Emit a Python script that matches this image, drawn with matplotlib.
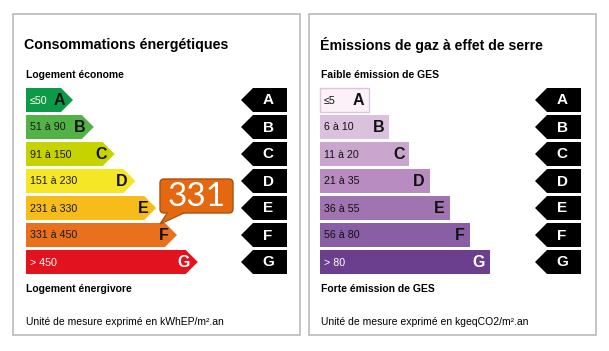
import numpy as np
import matplotlib.pyplot as plt
from matplotlib.patches import Polygon, Rectangle, FancyBboxPatch

plt.rcParams['font.family'] = ['Liberation Sans', 'DejaVu Sans']

# --- data ---
classes = ['A', 'B', 'C', 'D', 'E', 'F', 'G']
energy_ranges = ['≤50', '51 à 90', '91 à 150', '151 à 230', '231 à 330', '331 à 450', '> 450']
energy_colors = ['#0d9a47', '#53b246', '#c6d300', '#f5e725', '#f6bd1a', '#e9701d', '#e2131f']
energy_range_text = ['white', '#1a1a1a', '#1a1a1a', '#1a1a1a', '#1a1a1a', '#1a1a1a', 'white']
energy_letter_text = ['#111111', '#111111', '#111111', '#111111', '#111111', '#111111', 'white']

ges_ranges = ['≤5', '6 à 10', '11 à 20', '21 à 35', '36 à 55', '56 à 80', '> 80']
ges_colors = ['#fcf1f8', '#dcc1de', '#caa6cf', '#b88cc0', '#a073b1', '#8a5ea4', '#6c3f8e']
ges_text = ['#111111', '#111111', '#111111', '#111111', '#111111', '#111111', 'white']

energy_value = 331
energy_class = 'F'

# --- layout (pixels) ---
W, H = 609, 351
row_top0, row_pitch, row_h = 88, 27, 24

fig = plt.figure(figsize=(W / 100, H / 100), dpi=100)
ax = fig.add_axes([0, 0, 1, 1])
ax.set_xlim(0, W)
ax.set_ylim(H, 0)
ax.axis('off')

# panel frames
for x0 in (13, 309):
    ax.add_patch(Rectangle((x0, 14), 287, 321, fill=False, ec='#b4b4b4', lw=1.1))


def black_arrow(x_tip, y, letter):
    depth = 12
    pts = [(x_tip, y + row_h / 2), (x_tip + depth, y), (x_tip + 46, y),
           (x_tip + 46, y + row_h), (x_tip + depth, y + row_h)]
    ax.add_patch(Polygon(pts, closed=True, fc='black', ec='none'))
    ax.text(x_tip + 27, y + row_h / 2 + 0.5, letter, color='white', fontsize=11,
            fontweight='bold', ha='center', va='center')


# energy panel
ax.text(24, 45, 'Consommations énergétiques', fontsize=10.3, fontweight='bold', va='center')
ax.text(26, 75, 'Logement économe', fontsize=7.5, fontweight='bold', va='center')
ax.text(26, 289, 'Logement énergivore', fontsize=7.5, fontweight='bold', va='center')
ax.text(26, 322, 'Unité de mesure exprimé en kWhEP/m².an', fontsize=7.5, va='center')

for i, cls in enumerate(classes):
    y = row_top0 + i * row_pitch
    tip = 73 + 20.8 * i
    depth = 12
    pts = [(26, y), (tip - depth, y), (tip, y + row_h / 2), (tip - depth, y + row_h), (26, y + row_h)]
    ax.add_patch(Polygon(pts, closed=True, fc=energy_colors[i], ec='none'))
    ax.text(30, y + row_h / 2 + 0.5, energy_ranges[i], fontsize=7.7,
            color=energy_range_text[i], va='center')
    ax.text(tip - 8, y + row_h / 2 + 0.5, cls, fontsize=11.5, fontweight='bold',
            color=energy_letter_text[i], ha='right', va='center')
    black_arrow(241, y, cls)

# value bubble on the energy class row
k = classes.index(energy_class)
tail_y = row_top0 + k * row_pitch
bx0, by0, bx1, by1 = 160, 179, 233, 213
tail = Polygon([(168, by1 - 1), (186, by1 - 1), (160, tail_y + 1)], closed=True,
               fc='#e4680f', ec='#a9520f', lw=1)
ax.add_patch(tail)
ax.add_patch(FancyBboxPatch((bx0, by0), bx1 - bx0, by1 - by0,
                            boxstyle='round,pad=0,rounding_size=4',
                            fc='#e4680f', ec='#a9520f', lw=1))
ax.add_patch(Polygon([(169, by1 - 1.5), (185, by1 - 1.5), (162, tail_y - 0.5)], closed=True,
                     fc='#e4680f', ec='none'))
ax.text((bx0 + bx1) / 2, (by0 + by1) / 2 + 1, str(energy_value), fontsize=24,
        color='white', ha='center', va='center', family=['Lato', 'DejaVu Sans'])

# GES panel
ax.text(320, 45, 'Émissions de gaz à effet de serre', fontsize=10.2, fontweight='bold', va='center')
ax.text(321, 75, 'Faible émission de GES', fontsize=7.5, fontweight='bold', va='center')
ax.text(321, 289, 'Forte émission de GES', fontsize=7.5, fontweight='bold', va='center')
ax.text(321, 322, 'Unité de mesure exprimé en kgeqCO2/m².an', fontsize=7.5, va='center')

for i, cls in enumerate(classes):
    y = row_top0 + i * row_pitch
    right = 369 + 20.2 * i
    ax.add_patch(Rectangle((320, y), right - 320, row_h, fc=ges_colors[i],
                           ec='#dcc6dc' if i == 0 else 'none', lw=1))
    ax.text(324, y + row_h / 2 + 0.5, ges_ranges[i], fontsize=7.7, color=ges_text[i], va='center')
    ax.text(right - 5, y + row_h / 2 + 0.5, cls, fontsize=11.5, fontweight='bold',
            color=ges_text[i], ha='right', va='center')
    black_arrow(535, y, cls)

fig.savefig('out.png', dpi=100, facecolor='white')
